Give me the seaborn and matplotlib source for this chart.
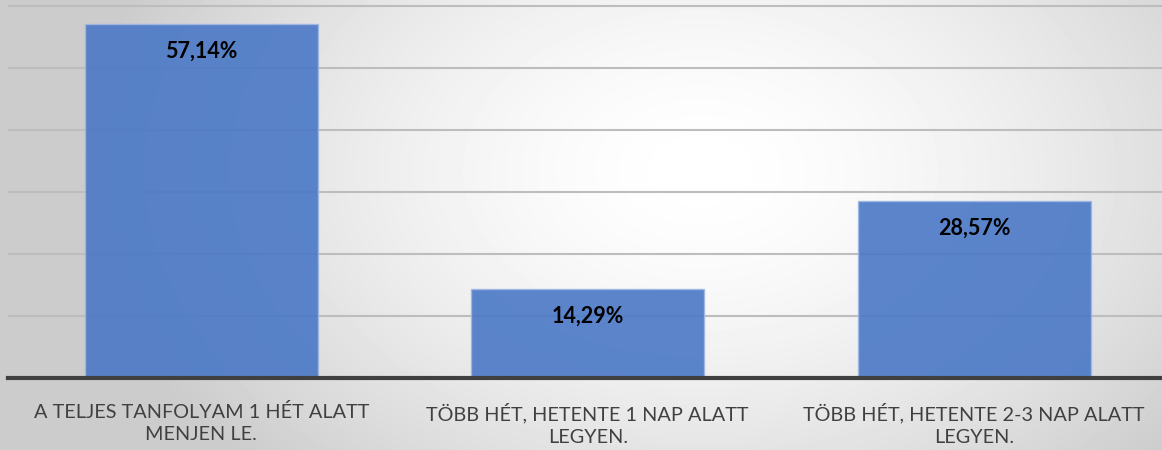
import matplotlib
matplotlib.use("Agg")
import matplotlib.pyplot as plt
import numpy as np
import pandas as pd
import seaborn as sns

categories = [
    "A TELJES TANFOLYAM 1 HÉT ALATT\nMENJEN LE.",
    "TÖBB HÉT, HETENTE 1 NAP ALATT\nLEGYEN.",
    "TÖBB HÉT, HETENTE 2-3 NAP ALATT\nLEGYEN.",
]
values = [57.14, 14.29, 28.57]
value_labels = ["57,14%", "14,29%", "28,57%"]

sns.set_theme(style="white")
plt.rcParams["font.family"] = ["Lato", "DejaVu Sans"]

fig = plt.figure(figsize=(11.62, 4.5), dpi=100)

# radial gradient background
bg = fig.add_axes([0, 0, 1, 1], zorder=0)
yy, xx = np.mgrid[0:450, 0:1162]
dist = np.sqrt(((xx - 700) / 620) ** 2 + ((yy - 170) / 420) ** 2)
shade = 1.0 - 0.2 * np.clip(dist, 0, 1) ** 1.6
bg.imshow(shade, cmap="gray", vmin=0, vmax=1, aspect="auto", interpolation="bilinear")
bg.axis("off")

ax = fig.add_axes([8 / 1162, 72 / 450, 1159.5 / 1162, 378 / 450], zorder=1)
ax.patch.set_alpha(0)

df = pd.DataFrame({"category": categories, "value": values})
sns.barplot(data=df, x="category", y="value", color="#4a78c6", width=0.603,
            saturation=1, edgecolor="#9fb7e2", linewidth=1, alpha=0.9, ax=ax, zorder=2)

ax.set_ylim(0, 378 / 6.2)
ax.set_xlim(-0.5, 2.5)
ax.set_yticks(np.arange(10, 61, 10))
ax.yaxis.grid(True, color="#bdbdbd", linewidth=1.5)
ax.set_axisbelow(True)
ax.tick_params(axis="y", left=False, labelleft=False)
ax.tick_params(axis="x", bottom=False, pad=12, labelsize=14.3, labelcolor="#404040")
for lab in ax.get_xticklabels():
    lab.set_linespacing(1.35)
ax.set_xlabel("")
ax.set_ylabel("")
for side in ["top", "right", "left"]:
    ax.spines[side].set_visible(False)
ax.spines["bottom"].set_color("#404040")
ax.spines["bottom"].set_linewidth(3)

for i, (v, t) in enumerate(zip(values, value_labels)):
    ax.annotate(t, (i, v), xytext=(0, -27), textcoords="offset pixels",
                ha="center", va="center", fontsize=15.5, fontweight="bold", color="black", zorder=3)

fig.savefig("out.png", dpi=100)
